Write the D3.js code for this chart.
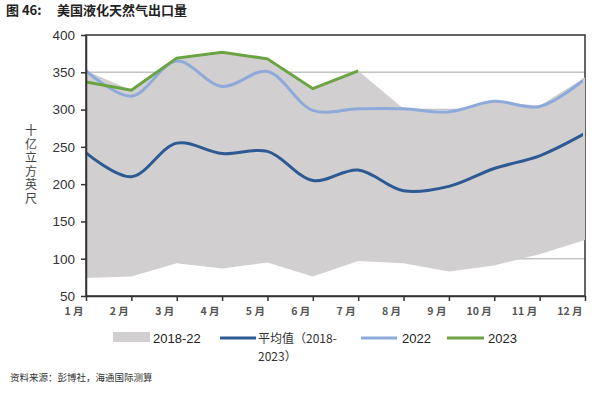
<!DOCTYPE html>
<html><head><meta charset="utf-8">
<script src="https://cdn.jsdelivr.net/npm/d3@7"></script>
<style>
body{margin:0;background:#fff;}
text{font-family:"Liberation Sans","DejaVu Sans",sans-serif;}
.cjk{font-family:"Noto Sans CJK SC",sans-serif;}
</style></head>
<body><svg id="c" width="597" height="399"></svg>
<script>
const months = ["1 月","2 月","3 月","4 月","5 月","6 月","7 月","8 月","9 月","10 月","11 月","12 月"];
const rangeHigh = [352, 326, 369, 377, 368, 328, 352, 301, 297, 311, 305, 343];
const rangeLow  = [74, 76, 94, 87, 95, 76, 97, 94, 83, 91, 106, 125];
const avg       = [242, 210, 255, 241, 244, 205, 219, 191, 197, 221, 238, 268];
const y2022     = [352, 318, 365, 331, 351, 299, 301, 301, 297, 311, 304, 341];
const y2023     = [337, 326, 369, 377, 368, 328, 352];
const yTicks = [50,100,150,200,250,300,350,400];

const svg = d3.select("#c");
const L=86, R=585, T=35, B=296;
const x = d3.scalePoint().domain(months).range([L,R]);
const y = d3.scaleLinear().domain([50,400]).range([B,T]);

// title
const tt = svg.append("text").attr("x",6).attr("y",15).attr("class","cjk")
  .attr("font-size",13).attr("font-weight","bold").attr("fill","#222");
tt.append("tspan").text("图 46:");
tt.append("tspan").attr("x",57).text("美国液化天然气出口量");

// gridlines
svg.append("g").selectAll("line").data(yTicks.slice(1,-1)).join("line")
  .attr("x1",L).attr("x2",R).attr("y1",d=>y(d)).attr("y2",d=>y(d))
  .attr("stroke","#c4c4c4").attr("stroke-width",1.5);

// area
const area = d3.area().x((d,i)=>x(months[i])).y0((d,i)=>y(rangeLow[i])).y1(d=>y(d));
svg.append("path").datum(rangeHigh).attr("d",area).attr("fill","#d1cfcf");

const smooth = d3.line().x((d,i)=>x(months[i])).y(d=>y(d)).curve(d3.curveCatmullRom.alpha(0.5));
const straight = d3.line().x((d,i)=>x(months[i])).y(d=>y(d));

svg.append("path").datum(avg).attr("d",smooth).attr("fill","none").attr("stroke","#2e5a94").attr("stroke-width",3);
svg.append("path").datum(y2022).attr("d",smooth).attr("fill","none").attr("stroke","#8eaadb").attr("stroke-width",3);
svg.append("path").datum(y2023).attr("d",straight).attr("fill","none").attr("stroke","#6aa341").attr("stroke-width",3);

// box
svg.append("rect").attr("x",L).attr("y",T).attr("width",R-L).attr("height",B-T)
  .attr("fill","none").attr("stroke","#333").attr("stroke-width",1.5);
svg.append("defs").append("clipPath").attr("id","rc").append("rect").attr("x",R-2).attr("y",T).attr("width",4).attr("height",B-T-2);
svg.append("path").datum(rangeHigh).attr("d",area).attr("fill","#d1cfcf").attr("clip-path","url(#rc)");

// axes
const ya = svg.append("g").attr("transform",`translate(${L},0)`)
  .call(d3.axisLeft(y).tickValues(yTicks).tickSize(5).tickSizeOuter(0));
ya.select(".domain").attr("stroke","#333").attr("stroke-width",1.5);
ya.selectAll(".tick line").attr("stroke","#333").attr("stroke-width",1.5);
ya.selectAll("text").attr("font-size",13.5).attr("fill","#333").attr("x",-11);

const xa = svg.append("g").attr("transform",`translate(0,${B})`)
  .call(d3.axisBottom(x).tickSize(5).tickSizeOuter(0));
xa.select(".domain").attr("stroke","#333").attr("stroke-width",1.5);
xa.selectAll(".tick line").attr("stroke","#333").attr("stroke-width",1.5);
xa.selectAll("text").attr("class","cjk").attr("font-size",10.5).attr("fill","#555").attr("font-weight","bold")
  .attr("y",12).attr("x",-3).attr("text-anchor","end");

// y label
svg.append("text").attr("class","cjk").attr("font-size",12).attr("fill","#444")
  .attr("transform","translate(31,165)").attr("writing-mode","tb").attr("text-anchor","middle")
  .attr("letter-spacing",1.5)
  .attr("glyph-orientation-vertical","0")
  .text("十亿立方英尺");

// legend
const lg = svg.append("g");
lg.append("rect").attr("x",113).attr("y",332).attr("width",37).attr("height",10).attr("fill","#d1cfcf");
lg.append("text").attr("x",153).attr("y",343).attr("font-size",13).attr("fill","#222").text("2018-22");
lg.append("line").attr("x1",220).attr("x2",256).attr("y1",338).attr("y2",338).attr("stroke","#2e5a94").attr("stroke-width",3);
lg.append("text").attr("class","cjk").attr("x",258).attr("y",343).attr("font-size",12).attr("fill","#333").text("平均值（2018-");
lg.append("text").attr("class","cjk").attr("x",258).attr("y",361).attr("font-size",12).attr("fill","#333").text("2023）");
lg.append("line").attr("x1",361).attr("x2",397).attr("y1",338).attr("y2",338).attr("stroke","#8eaadb").attr("stroke-width",3);
lg.append("text").attr("x",402).attr("y",343).attr("font-size",13).attr("fill","#222").text("2022");
lg.append("line").attr("x1",447).attr("x2",484).attr("y1",338).attr("y2",338).attr("stroke","#6aa341").attr("stroke-width",3);
lg.append("text").attr("x",488).attr("y",343).attr("font-size",13).attr("fill","#222").text("2023");

// source
svg.append("text").attr("class","cjk").attr("x",10).attr("y",381).attr("font-size",9.5).attr("fill","#333")
  .text("资料来源：彭博社，海通国际测算");
</script></body></html>
